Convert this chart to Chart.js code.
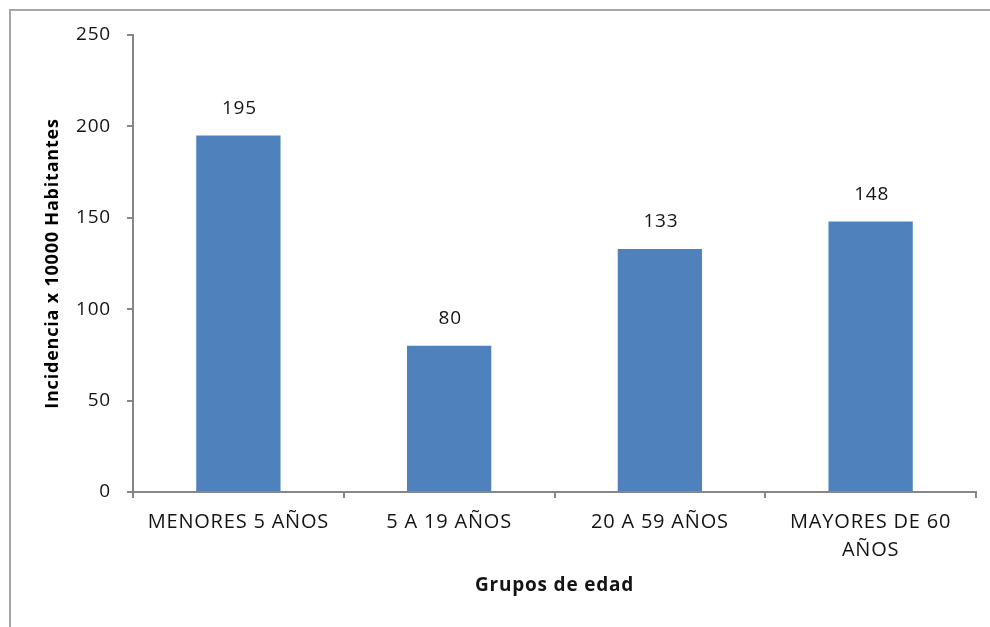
<!DOCTYPE html>
<html>
<head>
<meta charset="utf-8">
<title>Incidencia por grupos de edad</title>
<script src="https://cdn.jsdelivr.net/npm/chart.js@4.4.1/dist/chart.umd.min.js"></script>
<style>
  html, body { margin: 0; padding: 0; background: #fff; }
  #wrap { width: 990px; height: 627px; position: relative; }
</style>
</head>
<body>
<div id="wrap"><canvas id="myChart" width="990" height="627"></canvas></div>
<script>
var grupos = ["MENORES 5 AÑOS", "5 A 19 AÑOS", "20 A 59 AÑOS", ["MAYORES DE 60", "AÑOS"]];
var incidencia = [195, 80, 133, 148];
var yTicks = [0, 50, 100, 150, 200, 250];

var fontFam = "'Open Sans', 'Liberation Sans', sans-serif";
var axisGray = "#868686";
var textColor = "#141414";

// a touch of extra tracking on all text
var espaciado = {
  id: 'espaciado',
  beforeUpdate: function (chart) { chart.ctx.letterSpacing = "0.8px"; },
  beforeDraw: function (chart) { chart.ctx.letterSpacing = "0.8px"; }
};

// gray outer frame
var marco = {
  id: 'marco',
  beforeDraw: function (chart) {
    var c = chart.ctx;
    c.save();
    c.strokeStyle = "#a6a6a6";
    c.lineWidth = 2;
    c.strokeRect(10, 10, 1000, 640);
    c.restore();
  }
};

// value above each bar
var etiquetas = {
  id: 'etiquetas',
  afterDatasetsDraw: function (chart) {
    var c = chart.ctx;
    var meta = chart.getDatasetMeta(0);
    c.save();
    c.font = "19px " + fontFam;
    c.fillStyle = textColor;
    c.textAlign = "center";
    c.textBaseline = "middle";
    meta.data.forEach(function (bar, i) {
      c.fillText(String(incidencia[i]), bar.x + 1, bar.y - 27);
    });
    c.restore();
  }
};

var ctx = document.getElementById("myChart").getContext('2d');
var myChart = new Chart(ctx, {
  type: 'bar',
  data: {
    labels: grupos,
    datasets: [{
      data: incidencia,
      backgroundColor: "#4f81bd",
      borderWidth: 0,
      categoryPercentage: 1,
      barPercentage: 0.4
    }]
  },
  options: {
    responsive: false,
    animation: false,
    layout: { padding: { left: 0, top: 35, right: 14, bottom: 0 } },
    plugins: {
      legend: { display: false },
      tooltip: { enabled: false }
    },
    scales: {
      x: {
        offset: true,
        afterFit: function (s) { s.height = 135; },
        border: { color: axisGray, width: 2 },
        grid: {
          display: true,
          offset: true,
          drawOnChartArea: false,
          drawTicks: true,
          tickLength: 6,
          color: axisGray,
          lineWidth: 2
        },
        ticks: {
          color: textColor,
          font: { family: fontFam, size: 20, lineHeight: 1.4 },
          padding: 10,
          maxRotation: 0,
          autoSkip: false
        },
        title: {
          display: true,
          text: "Grupos de edad",
          color: textColor,
          font: { family: fontFam, size: 19, weight: 'bold' },
          padding: { top: 0, bottom: 30 }
        }
      },
      y: {
        min: 0,
        max: 250,
        afterFit: function (s) { s.width = 133; },
        afterBuildTicks: function (s) {
          s.ticks = yTicks.map(function (v) { return { value: v }; });
        },
        border: { color: axisGray, width: 2 },
        grid: {
          display: true,
          drawOnChartArea: false,
          drawTicks: true,
          tickLength: 6,
          color: axisGray,
          lineWidth: 2
        },
        ticks: {
          color: textColor,
          font: { family: fontFam, size: 19 },
          padding: 16
        },
        title: {
          display: true,
          text: "Incidencia x 10000 Habitantes",
          color: "#000",
          font: { family: fontFam, size: 18, weight: 'bold' },
          padding: { top: 42, bottom: 0 }
        }
      }
    }
  },
  plugins: [espaciado, marco, etiquetas]
});
</script>
</body>
</html>
